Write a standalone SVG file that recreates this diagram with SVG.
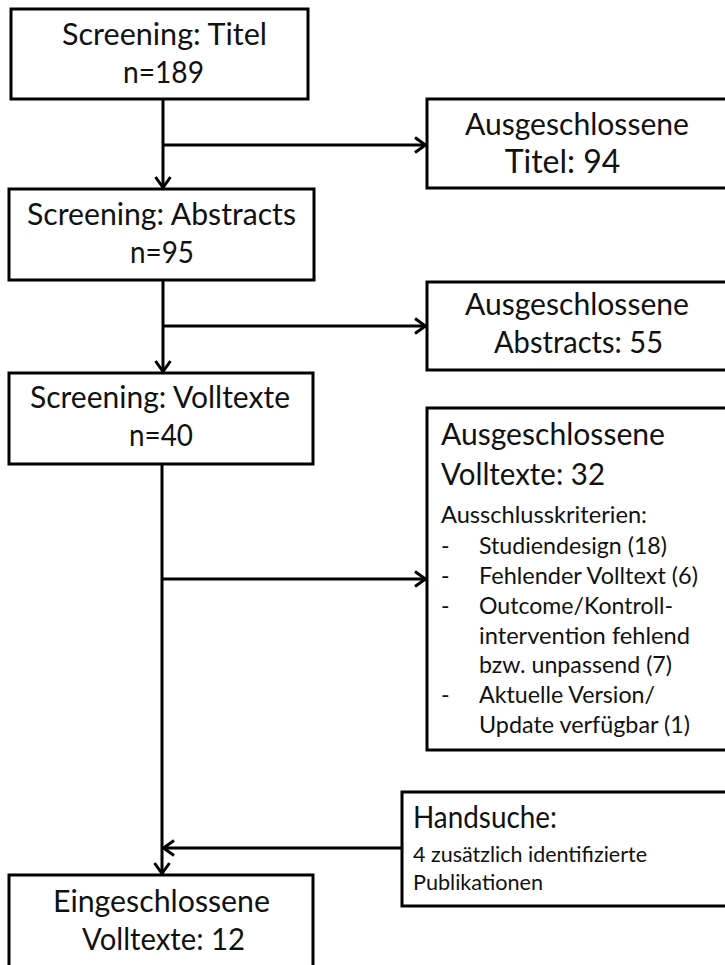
<svg xmlns="http://www.w3.org/2000/svg" width="725" height="965" viewBox="0 0 725 965">
<style>
  .box { fill: #ffffff; stroke: #000000; stroke-width: 3; }
  .t { font-family: Lato, "Open Sans", "Liberation Sans", sans-serif; fill: #111111; }
  .l { font-size: 30px; }
  .s { font-size: 23px; }
  .xs { font-size: 21px; }
  .c { fill: none; stroke: #000000; stroke-width: 3; }
</style>
<defs>
  <marker id="arr" markerUnits="userSpaceOnUse" viewBox="0 0 14 18" refX="12.5" refY="9" markerWidth="14" markerHeight="18" orient="auto">
    <path d="M1.5,1.5 L12,9 L1.5,16.5" fill="none" stroke="#000000" stroke-width="3"/>
  </marker>
</defs>
<rect width="725" height="965" fill="#ffffff"/>

<g id="connectors">
  <line class="c" x1="163" y1="99" x2="163" y2="188" marker-end="url(#arr)"/>
  <line class="c" x1="163" y1="145" x2="426" y2="145" marker-end="url(#arr)"/>
  <line class="c" x1="163" y1="280" x2="163" y2="372" marker-end="url(#arr)"/>
  <line class="c" x1="163" y1="326" x2="426" y2="326" marker-end="url(#arr)"/>
  <line class="c" x1="162" y1="464" x2="162" y2="874" marker-end="url(#arr)"/>
  <line class="c" x1="162" y1="579" x2="426" y2="579" marker-end="url(#arr)"/>
  <line class="c" x1="402" y1="848" x2="163" y2="848" marker-end="url(#arr)"/>
</g>

<g id="screening-titel">
  <rect class="box" x="11" y="9" width="297" height="90"/>
  <text class="t l" x="62" y="45" textLength="205" lengthAdjust="spacingAndGlyphs">Screening: Titel</text>
  <text class="t l" x="123" y="83" textLength="81" lengthAdjust="spacingAndGlyphs">n=189</text>
</g>

<g id="ausgeschlossene-titel">
  <rect class="box" x="427" y="99" width="310" height="89"/>
  <text class="t l" x="465" y="135" textLength="224" lengthAdjust="spacingAndGlyphs">Ausgeschlossene</text>
  <text class="t" x="562.5" y="173" text-anchor="middle" font-size="32">Titel: 94</text>
</g>

<g id="screening-abstracts">
  <rect class="box" x="9" y="189" width="305" height="91"/>
  <text class="t l" x="27" y="225" textLength="269" lengthAdjust="spacingAndGlyphs">Screening: Abstracts</text>
  <text class="t l" x="130" y="263" textLength="64" lengthAdjust="spacingAndGlyphs">n=95</text>
</g>

<g id="ausgeschlossene-abstracts">
  <rect class="box" x="427" y="282" width="310" height="88"/>
  <text class="t l" x="465" y="315" textLength="224" lengthAdjust="spacingAndGlyphs">Ausgeschlossene</text>
  <text class="t l" x="494" y="353" textLength="169" lengthAdjust="spacingAndGlyphs">Abstracts: 55</text>
</g>

<g id="screening-volltexte">
  <rect class="box" x="9" y="373" width="304" height="91"/>
  <text class="t l" x="30" y="408" textLength="260" lengthAdjust="spacingAndGlyphs">Screening: Volltexte</text>
  <text class="t l" x="129" y="446" textLength="64" lengthAdjust="spacingAndGlyphs">n=40</text>
</g>

<g id="ausgeschlossene-volltexte">
  <rect class="box" x="427" y="408" width="310" height="342"/>
  <text class="t l" x="441" y="445" textLength="224" lengthAdjust="spacingAndGlyphs">Ausgeschlossene</text>
  <text class="t l" x="441" y="485" textLength="164" lengthAdjust="spacingAndGlyphs">Volltexte: 32</text>
  <text class="t s" x="441" y="523" textLength="206" lengthAdjust="spacingAndGlyphs">Ausschlusskriterien:</text>
  <text class="t s" x="441" y="554">-</text>
  <text class="t s" x="479" y="554" textLength="188" lengthAdjust="spacingAndGlyphs">Studiendesign (18)</text>
  <text class="t s" x="441" y="584">-</text>
  <text class="t s" x="479" y="584" textLength="219" lengthAdjust="spacingAndGlyphs">Fehlender Volltext (6)</text>
  <text class="t s" x="441" y="614">-</text>
  <text class="t s" x="479" y="614" textLength="194" lengthAdjust="spacingAndGlyphs">Outcome/Kontroll-</text>
  <text class="t s" x="479" y="644" textLength="211" lengthAdjust="spacingAndGlyphs">intervention fehlend</text>
  <text class="t s" x="479" y="673" textLength="193" lengthAdjust="spacingAndGlyphs">bzw. unpassend (7)</text>
  <text class="t s" x="441" y="703">-</text>
  <text class="t s" x="479" y="703" textLength="176" lengthAdjust="spacingAndGlyphs">Aktuelle Version/</text>
  <text class="t s" x="479" y="733" textLength="211" lengthAdjust="spacingAndGlyphs">Update verfügbar (1)</text>
</g>

<g id="handsuche">
  <rect class="box" x="402" y="792" width="335" height="114"/>
  <text class="t l" x="413" y="828" textLength="144" lengthAdjust="spacingAndGlyphs">Handsuche:</text>
  <text class="t xs" x="413" y="862" textLength="234" lengthAdjust="spacingAndGlyphs">4 zusätzlich identifizierte</text>
  <text class="t xs" x="413" y="890" textLength="130" lengthAdjust="spacingAndGlyphs">Publikationen</text>
</g>

<g id="eingeschlossene-volltexte">
  <rect class="box" x="9" y="875" width="304" height="100"/>
  <text class="t l" x="53" y="912" textLength="217" lengthAdjust="spacingAndGlyphs">Eingeschlossene</text>
  <text class="t l" x="82" y="950" textLength="163" lengthAdjust="spacingAndGlyphs">Volltexte: 12</text>
</g>
</svg>
